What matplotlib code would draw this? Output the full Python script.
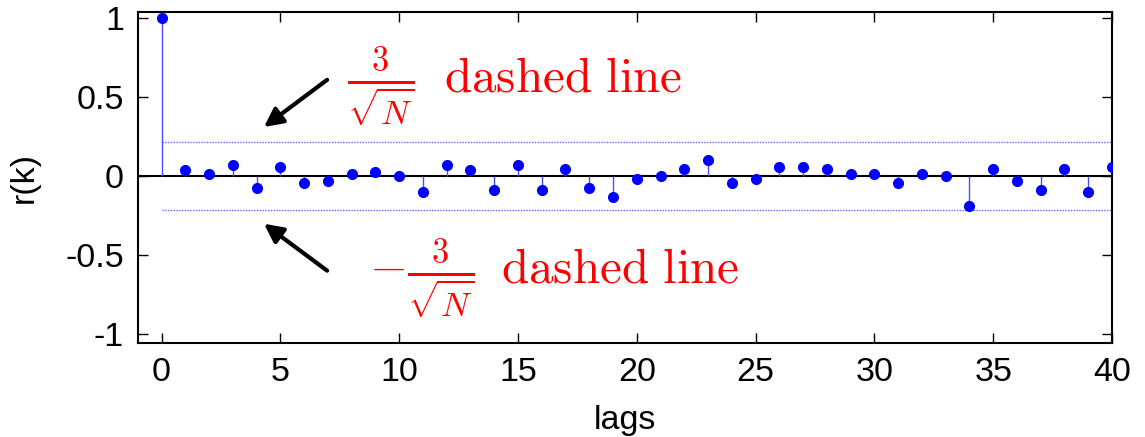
import numpy as np
import matplotlib
matplotlib.use("Agg")
import matplotlib.pyplot as plt

plt.rcParams['font.family'] = ['Liberation Sans', 'DejaVu Sans']
plt.rcParams['mathtext.fontset'] = 'cm'

lags = list(range(0, 41))
r = [1.0, 0.042, 0.014, 0.073, -0.075, 0.062, -0.043, -0.028, 0.014, 0.030,
     0.0, -0.100, 0.073, 0.042, -0.085, 0.074, -0.085, 0.046, -0.071, -0.132,
     -0.015, 0.002, 0.046, 0.103, -0.043, -0.015, 0.058, 0.058, 0.044, 0.016,
     0.016, -0.043, 0.016, 0.0, -0.189, 0.046, -0.028, -0.085, 0.046, -0.100,
     0.058]
bound = 0.216
xticks = [0, 5, 10, 15, 20, 25, 30, 35, 40]
yticks = [-1, -0.5, 0, 0.5, 1]
yticklabels = ['-1', '-0.5', '0', '0.5', '1']

fig = plt.figure(figsize=(11.45, 4.37), dpi=100)
ax = fig.add_axes([0.1203, 0.215, 0.8509, 0.7575])

ax.axhline(0, color='black', lw=1.5, zorder=1)
ax.vlines(lags, 0, r, color='#4d4dff', lw=1.0, zorder=2)
ax.plot(lags, r, 'o', color='blue', ms=7, zorder=3)
ax.plot([lags[0], lags[-1]], [bound, bound], color='#6666ff', lw=1.0,
        linestyle=(0, (1, 1)), zorder=1)
ax.plot([lags[0], lags[-1]], [-bound, -bound], color='#6666ff', lw=1.0,
        linestyle=(0, (1, 1)), zorder=1)

ax.set_xlim(-1, 40)
ax.set_ylim(-1.055, 1.04)
ax.set_xticks(xticks)
ax.set_yticks(yticks)
ax.set_yticklabels(yticklabels)
ax.tick_params(direction='in', length=7, width=1, labelsize=24.5,
               top=True, right=True, pad=10)
for s in ax.spines.values():
    s.set_linewidth(1.5)

ax.set_xlabel('lags', fontsize=24.5, labelpad=12)
ax.set_ylabel('r(k)', fontsize=24.5, labelpad=18)

ax.annotate('', xy=(4.31, 0.312), xytext=(6.97, 0.611),
            arrowprops=dict(arrowstyle='-|>', lw=3, color='black',
                            mutation_scale=28, shrinkA=0, shrinkB=0))
ax.annotate('', xy=(4.31, -0.30), xytext=(6.97, -0.597),
            arrowprops=dict(arrowstyle='-|>', lw=3, color='black',
                            mutation_scale=28, shrinkA=0, shrinkB=0))

ax.text(7.82, 0.537, r'$\frac{3}{\sqrt{N}}$',
        color='red', fontsize=35.3, ha='left', va='baseline')
ax.text(11.89, 0.537, r'$\mathrm{dashed\ line}$',
        color='red', fontsize=35.3, ha='left', va='baseline')
ax.text(8.74, -0.673, r'$-\frac{3}{\sqrt{N}}$',
        color='red', fontsize=35.3, ha='left', va='baseline')
ax.text(14.29, -0.673, r'$\mathrm{dashed\ line}$',
        color='red', fontsize=35.3, ha='left', va='baseline')

fig.savefig('out.png', dpi=100)
